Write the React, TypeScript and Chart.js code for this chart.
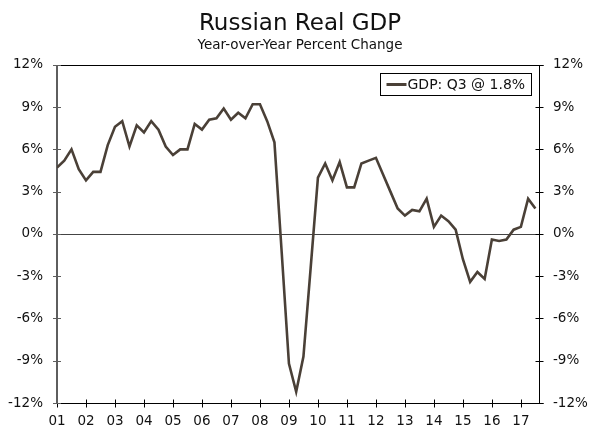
import React, { useEffect, useRef } from "react";
import { Chart, registerables, Plugin } from "chart.js";

Chart.register(...registerables);

// INPUT DATA
const yearTicks = [
  "01", "02", "03", "04", "05", "06", "07", "08", "09",
  "10", "11", "12", "13", "14", "15", "16", "17",
];

// Russian real GDP, year-over-year % change, 2001 Q1 .. 2017 Q3
const gdpValues = [
  4.7, 5.2, 6.0, 4.6,
  3.8, 4.4, 4.4, 6.3,
  7.6, 8.0, 6.2, 7.7,
  7.2, 8.0, 7.4, 6.2,
  5.6, 6.0, 6.0, 7.8,
  7.4, 8.1, 8.2, 8.9,
  8.1, 8.6, 8.2, 9.2,
  9.2, 8.0, 6.5, -1.3,
  -9.2, -11.2, -8.7, -2.4,
  4.0, 5.0, 3.8, 5.1,
  3.3, 3.3, 5.0, 5.2,
  5.4, 4.2, 3.0, 1.8,
  1.3, 1.7, 1.6, 2.5,
  0.5, 1.3, 0.9, 0.3,
  -1.8, -3.4, -2.7, -3.2,
  -0.4, -0.5, -0.4, 0.3,
  0.5, 2.5, 1.8,
];

const quarterLabels = yearTicks
  .flatMap((yr) => ["Q1", "Q2", "Q3", "Q4"].map((q) => `${yr} ${q}`))
  .slice(0, gdpValues.length);

const percentTicks = [-12, -9, -6, -3, 0, 3, 6, 9, 12];

const seriesLabel = "GDP: Q3 @ 1.8%";

const FONT = "DejaVu Sans";
const TEXT = "#111";
const LINE = "#4a4037";

// axes, crossing tick marks, zero line
const framePlugin: Plugin<"line"> = {
  id: "frame",
  beforeDatasetsDraw(chart) {
    const { ctx, chartArea } = chart;
    const { left, right, top, bottom } = chartArea;
    const yScale = chart.scales.y;
    const xScale = chart.scales.x;
    const L = Math.round(left);
    const R = Math.round(right) + 0.5;
    const T = Math.round(top) + 0.5;
    const B = Math.round(bottom) + 0.5;

    ctx.save();

    // zero line
    const y0 = Math.round(yScale.getPixelForValue(0)) + 0.5;
    ctx.strokeStyle = "#444";
    ctx.lineWidth = 1;
    ctx.beginPath();
    ctx.moveTo(L, y0);
    ctx.lineTo(R, y0);
    ctx.stroke();

    // top and bottom lines
    ctx.strokeStyle = "#000";
    ctx.beginPath();
    ctx.moveTo(L - 4, T);
    ctx.lineTo(R + 4, T);
    ctx.moveTo(L - 4, B);
    ctx.lineTo(R + 4, B);
    ctx.stroke();

    // right axis + ticks
    ctx.beginPath();
    ctx.moveTo(R, T);
    ctx.lineTo(R, B);
    yScale.ticks.forEach((t) => {
      const py = Math.round(yScale.getPixelForValue(t.value)) + 0.5;
      ctx.moveTo(R - 4, py);
      ctx.lineTo(R + 4, py);
    });
    ctx.stroke();

    // x ticks
    ctx.beginPath();
    xScale.ticks.forEach((t) => {
      const px = Math.round(xScale.getPixelForValue(t.value)) + 0.5;
      ctx.moveTo(px, B - 4);
      ctx.lineTo(px, B + 4);
    });
    ctx.stroke();

    // left axis (grey, 2px) + ticks
    ctx.strokeStyle = "#5e5e5e";
    ctx.lineWidth = 2;
    ctx.beginPath();
    ctx.moveTo(L, T - 0.5);
    ctx.lineTo(L, B + 0.5);
    ctx.stroke();
    ctx.lineWidth = 1;
    ctx.beginPath();
    yScale.ticks.forEach((t) => {
      const py = Math.round(yScale.getPixelForValue(t.value)) + 0.5;
      ctx.moveTo(L - 4, py);
      ctx.lineTo(L + 4, py);
    });
    ctx.stroke();

    ctx.restore();
  },
};

// boxed legend in top-right corner of the plot
const boxLegendPlugin: Plugin<"line"> = {
  id: "boxLegend",
  afterDraw(chart) {
    const { ctx, chartArea } = chart;
    const ds = chart.data.datasets[0];
    const label = String(ds.label ?? "");
    ctx.save();
    ctx.font = `14px "${FONT}"`;
    const textW = ctx.measureText(label).width;
    const boxRight = Math.round(chartArea.right) - 8 + 0.5;
    const boxW = Math.round(6 + 21 + textW + 6);
    const boxLeft = boxRight - boxW;
    const boxTop = Math.round(chartArea.top) + 8 + 0.5;
    const boxH = 22;
    const midY = boxTop + boxH / 2;

    ctx.fillStyle = "#fff";
    ctx.fillRect(boxLeft, boxTop, boxW, boxH);
    ctx.strokeStyle = "#000";
    ctx.lineWidth = 1;
    ctx.strokeRect(boxLeft, boxTop, boxW, boxH);

    ctx.strokeStyle = String(ds.borderColor);
    ctx.lineWidth = 3;
    ctx.beginPath();
    ctx.moveTo(boxLeft + 6, midY);
    ctx.lineTo(boxLeft + 26, midY);
    ctx.stroke();

    ctx.fillStyle = TEXT;
    ctx.textAlign = "left";
    ctx.textBaseline = "middle";
    ctx.fillText(label, boxLeft + 27, midY + 0.5);
    ctx.restore();
  },
};

const RussianGdpChart: React.FC = () => {
  const canvasRef = useRef<HTMLCanvasElement | null>(null);

  useEffect(() => {
    document.body.style.margin = "0";
    if (!canvasRef.current) return;

    const yAxis = (position: "left" | "right", width: number) => ({
      type: "linear" as const,
      position,
      min: percentTicks[0],
      max: percentTicks[percentTicks.length - 1],
      afterFit: (scale: any) => {
        scale.width = width;
      },
      afterBuildTicks: (scale: any) => {
        scale.ticks = percentTicks.map((v) => ({ value: v }));
      },
      grid: { display: false, drawTicks: false },
      border: { display: false },
      ticks: {
        padding: 14,
        color: TEXT,
        font: { family: FONT, size: 13.5 },
        callback: (v: number | string) => `${v}%`,
      },
    });

    const chart = new Chart(canvasRef.current, {
      type: "line",
      data: {
        datasets: [
          {
            label: seriesLabel,
            data: gdpValues.map((v, i) => ({ x: i, y: v })),
            borderColor: LINE,
            borderWidth: 2.6,
            pointRadius: 0,
            tension: 0,
            fill: false,
          },
        ],
      },
      options: {
        responsive: false,
        animation: false,
        layout: { padding: 0 },
        plugins: {
          legend: { display: false },
          tooltip: { enabled: false },
          title: {
            display: true,
            text: "Russian Real GDP",
            color: TEXT,
            font: { family: FONT, size: 23, weight: "normal" },
            padding: { top: 10, bottom: 0 },
          },
          subtitle: {
            display: true,
            text: "Year-over-Year Percent Change",
            color: TEXT,
            font: { family: FONT, size: 13.5, weight: "normal" },
            padding: { top: 0, bottom: 11 },
          },
        },
        scales: {
          x: {
            type: "linear",
            min: 0,
            max: quarterLabels.length - 0.5,
            afterFit: (scale: any) => {
              scale.height = 34;
            },
            grid: { display: false, drawTicks: false },
            border: { display: false },
            ticks: {
              stepSize: 4,
              includeBounds: false,
              autoSkip: false,
              maxRotation: 0,
              padding: 10,
              color: TEXT,
              font: { family: FONT, size: 13.5 },
              callback: (v: number | string) => {
                const n = Number(v);
                return n % 4 === 0 ? yearTicks[n / 4] : "";
              },
            },
          },
          y: yAxis("left", 57),
          y2: yAxis("right", 61),
        },
      },
      plugins: [framePlugin, boxLegendPlugin],
    });

    return () => {
      chart.destroy();
    };
  }, []);

  return (
    <div style={{ width: 600, height: 437, background: "#fff" }}>
      <canvas ref={canvasRef} width={600} height={437}></canvas>
    </div>
  );
};

export default function App() {
  return <RussianGdpChart />;
}
